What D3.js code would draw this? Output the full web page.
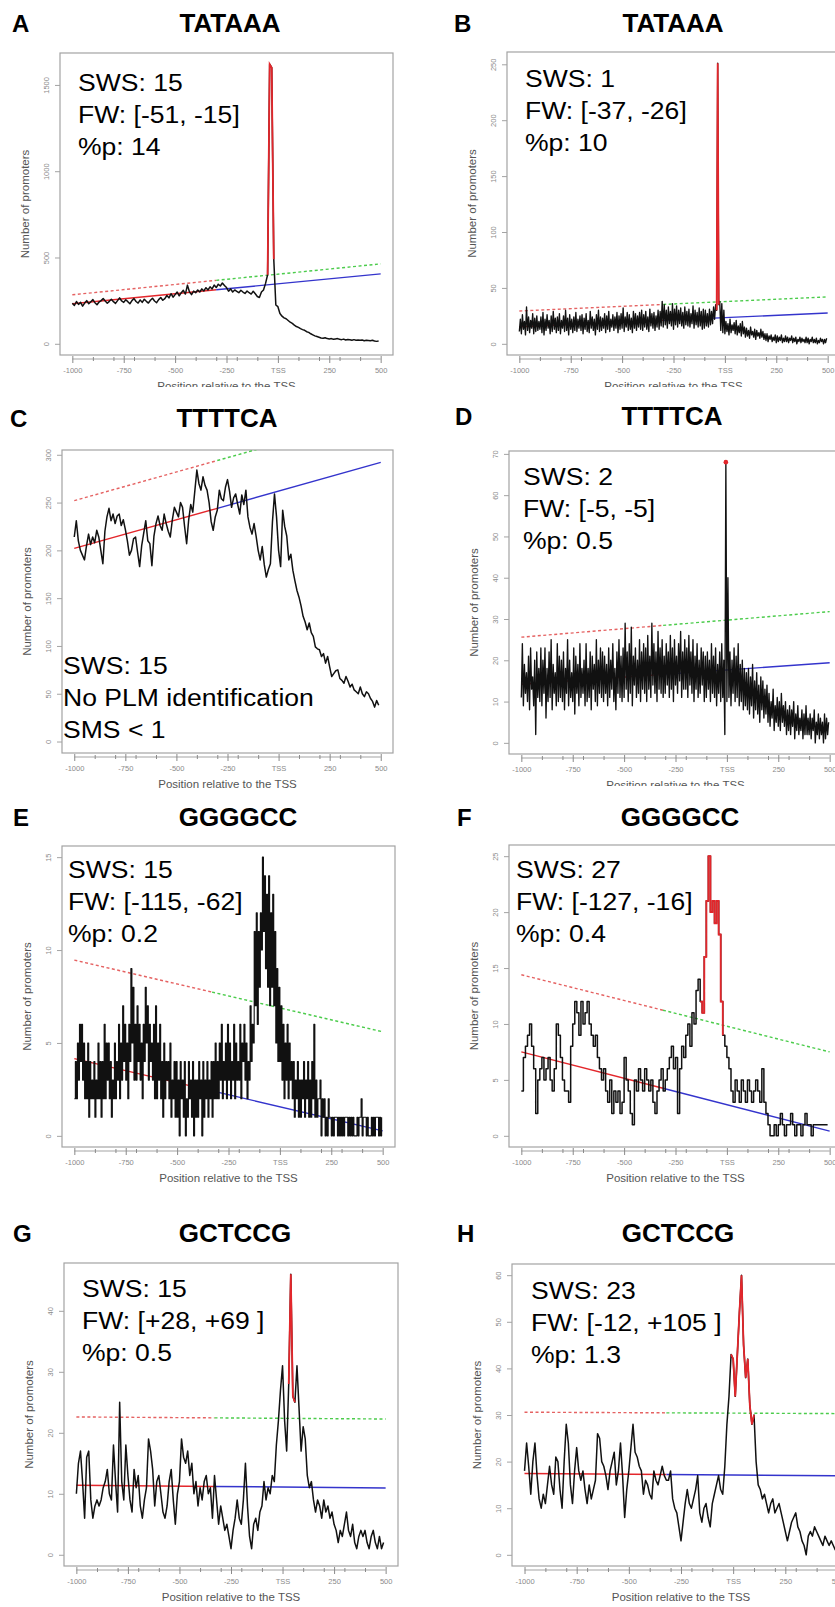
<!DOCTYPE html>
<html>
<head>
<meta charset="utf-8">
<script src="https://cdn.jsdelivr.net/npm/d3@7"></script>
<style>
  body { margin: 0; background: #fff; }
  svg { display: block; font-family: Arial, "Liberation Sans", sans-serif; }
</style>
</head>
<body>
<div class="canvas"></div>
<script>
// ---- panel texts
const letters = ['A', 'B', 'C', 'D', 'E', 'F', 'G', 'H'];
const motifs = ['TATAAA', 'TATAAA', 'TTTTCA', 'TTTTCA', 'GGGGCC', 'GGGGCC', 'GCTCCG', 'GCTCCG'];
const notes = [
    ['SWS: 15', 'FW: [-51, -15]', '%p: 14'],
    ['SWS: 1', 'FW: [-37, -26]', '%p: 10'],
    ['SWS: 15', 'No PLM identification', 'SMS < 1'],
    ['SWS: 2', 'FW: [-5, -5]', '%p: 0.5'],
    ['SWS: 15', 'FW: [-115, -62]', '%p: 0.2'],
    ['SWS: 27', 'FW: [-127, -16]', '%p: 0.4'],
    ['SWS: 15', 'FW: [+28, +69 ]', '%p: 0.5'],
    ['SWS: 23', 'FW: [-12, +105 ]', '%p: 1.3']
];

// ---- axes
const xMajor = [-1000, -750, -500, -250, 0, 250, 500];
const xMajorLabels = ['-1000', '-750', '-500', '-250', 'TSS', '250', '500'];
const xMinor = [-900, -800, -700, -600, -400, -300, -200, -100, 100, 200, 300, 400];
const xLimits = [-1060, 560];
const yLimits = [[-65, 1685], [-10, 261], [-12, 305], [-2.7, 70.7], [-0.6, 15.6], [-1, 26], [-1.84, 47.84], [-2.4, 62.4]];
const yTicks = [
    [0, 500, 1000, 1500],
    [0, 50, 100, 150, 200, 250],
    [0, 50, 100, 150, 200, 250, 300],
    [0, 10, 20, 30, 40, 50, 60, 70],
    [0, 5, 10, 15],
    [0, 5, 10, 15, 20, 25],
    [0, 10, 20, 30, 40],
    [0, 10, 20, 30, 40, 50, 60]
];

// ---- regression lines: value at -1000 and at +500, and where red turns blue/green
const fitLow = [[232, 405], [15.3, 27.5], [202, 292], [14.2, 19.4], [4.16, 0.27], [7.5, 0.42], [11.4, 10.96], [17.45, 16.95]];
const fitHigh = [[284, 463], [29.3, 42], [252, 342], [25.6, 31.8], [9.46, 5.6], [14.4, 7.5], [22.6, 22.26], [30.6, 30.3]];
const fitSplit = [-300, -300, -300, -310, -330, -311, -330, -320];

// ---- red (PLM) windows
const peakWindows = [[-51, -15], [-37, -26], null, [-5, -5], null, [-127, -16], [28, 69], [-12, 105]];

// ---- promoter counts, one value (or min/max pair) per 10 bp from -1000
const xFirst = -1000;
const xStep = 10;

const seriesA = [
    235, 222, 245, 228, 240, 218, 236, 250, 232, 244,
    256, 238, 226, 242, 250, 262, 248, 235, 246, 258,
    244, 234, 250, 266, 248, 240, 255, 244, 232, 250,
    262, 245, 236, 254, 240, 258, 246, 236, 252, 264,
    248, 238, 256, 268, 252, 262, 280, 266, 290, 270,
    285, 300, 278, 296, 310, 288, 340, 300, 285, 305,
    296, 312, 300, 318, 306, 325, 312, 330, 318, 340,
    326, 345, 335, 352, 338, 326, 305, 318, 300, 312,
    304, 296, 310, 300, 292, 306, 296, 288, 304, 290,
    274, 268, 300, 312, 350, 400, 1620, 1600, 490, 225,
    215, 175, 160, 150, 145, 135, 125, 118, 108, 100,
    95, 88, 82, 78, 70, 66, 58, 52, 46, 42,
    38, 34, 32, 35, 30, 28, 30, 26, 28, 30,
    26, 24, 27, 22, 25, 23, 20, 24, 21, 22,
    20, 22, 18, 21, 19, 17, 20, 16, 14, 16
];

const seriesBLo = [
    11, 9, 13, 8, 12, 10, 14, 9, 11, 12,
    13, 10, 8, 12, 14, 9, 11, 13, 10, 12,
    9, 14, 11, 12, 8, 13, 10, 12, 11, 14,
    12, 9, 13, 11, 10, 14, 12, 8, 13, 11,
    12, 14, 10, 13, 11, 15, 12, 14, 10, 13,
    14, 11, 15, 12, 13, 10, 14, 12, 15, 13,
    12, 15, 13, 11, 16, 14, 12, 15, 13, 16,
    15, 17, 14, 18, 16, 13, 17, 15, 18, 16,
    14, 17, 16, 15, 18, 14, 17, 15, 16, 13,
    14, 16, 15, 17, 18, 22, 30, 35, 12, 10,
    9, 11, 8, 10, 12, 9, 8, 10, 7, 9,
    6, 7, 5, 8, 6, 4, 7, 5, 6, 4,
    3, 2, 4, 2, 3, 1, 2, 3, 1, 2,
    2, 1, 3, 1, 2, 0, 2, 1, 2, 1,
    1, 0, 2, 1, 1, 0, 1, 2, 0, 1
];
const seriesBHi = [
    22, 26, 20, 33, 24, 21, 27, 23, 25, 20,
    24, 28, 22, 26, 21, 25, 29, 23, 24, 27,
    21, 25, 30, 23, 26, 22, 24, 28, 22, 25,
    26, 23, 27, 21, 29, 24, 22, 26, 30, 24,
    23, 27, 25, 29, 22, 26, 24, 28, 25, 27,
    32, 24, 28, 26, 23, 29, 27, 25, 28, 30,
    26, 29, 24, 31, 27, 28, 25, 30, 29, 38,
    35, 30, 33, 29, 36, 31, 34, 30, 32, 28,
    33, 29, 31, 27, 34, 30, 28, 32, 29, 31,
    30, 27, 31, 29, 33, 35, 251, 38, 36, 30,
    20, 18, 22, 17, 19, 21, 16, 18, 20, 15,
    14, 12, 15, 11, 13, 12, 10, 13, 11, 9,
    9, 7, 8, 6, 8, 7, 6, 8, 5, 7,
    6, 5, 7, 5, 6, 4, 6, 5, 4, 6,
    5, 4, 6, 4, 5, 3, 5, 4, 4, 5
];

const seriesC = [
    214, 231, 210, 200, 195, 190, 205, 217, 206, 214,
    208, 221, 214, 200, 186, 220, 235, 244, 231, 238,
    228, 236, 238, 226, 232, 222, 210, 195, 200, 212,
    214, 198, 183, 205, 218, 231, 210, 207, 184, 215,
    228, 236, 226, 221, 238, 228, 220, 214, 232, 245,
    240, 235, 250, 245, 225, 207, 232, 248, 240, 262,
    284, 270, 263, 277, 268, 263, 250, 230, 221, 235,
    242, 263, 254, 252, 266, 274, 262, 245, 255, 259,
    248, 238, 258, 248, 263, 235, 224, 217, 228, 215,
    200, 190, 204, 185, 172, 180, 186, 230, 259, 235,
    200, 183, 242, 225, 215, 190, 196, 179, 168, 158,
    151, 142, 131, 125, 117, 124, 114, 110, 99, 97,
    96, 89, 92, 82, 89, 78, 68, 71, 74, 75,
    66, 64, 61, 68, 63, 57, 60, 54, 52, 50,
    57, 50, 47, 52, 50, 45, 42, 36, 43, 38
];

const seriesDLo = [
    11, 9, 12, 10, 8, 13, 9, 2, 11, 10,
    9, 12, 6, 10, 11, 8, 12, 9, 10, 11,
    10, 8, 12, 9, 11, 10, 7, 12, 9, 11,
    12, 9, 10, 11, 8, 13, 10, 9, 12, 11,
    10, 12, 9, 11, 13, 10, 8, 12, 11, 10,
    11, 13, 10, 12, 9, 14, 11, 12, 10, 13,
    12, 10, 13, 11, 14, 12, 10, 13, 12, 11,
    12, 14, 11, 13, 10, 14, 12, 15, 11, 13,
    13, 11, 14, 12, 10, 13, 11, 12, 14, 10,
    11, 13, 10, 12, 11, 9, 12, 10, 11, 2,
    10, 11, 9, 12, 10, 11, 9, 10, 8, 9,
    8, 7, 9, 6, 8, 7, 5, 8, 6, 7,
    5, 4, 6, 3, 5, 4, 3, 5, 4, 2,
    3, 2, 4, 1, 3, 2, 3, 1, 2, 2,
    2, 1, 3, 0, 2, 1, 2, 0, 1, 2
];
const seriesDHi = [
    24, 19, 17, 21, 23, 16, 20, 22, 18, 23,
    20, 23, 18, 22, 25, 19, 17, 24, 21, 20,
    22, 18, 25, 20, 17, 23, 21, 19, 24, 18,
    20, 24, 18, 22, 21, 19, 25, 20, 23, 22,
    21, 19, 23, 20, 24, 18, 22, 25, 21, 23,
    29, 22, 24, 28, 21, 23, 20, 25, 22, 24,
    23, 26, 21, 29, 24, 22, 27, 23, 25, 21,
    24, 22, 26, 23, 25, 21, 24, 27, 22, 25,
    23, 26, 22, 25, 21, 24, 20, 23, 22, 21,
    22, 20, 24, 21, 23, 19, 22, 24, 20, 68,
    40, 22, 20, 23, 21, 24, 19, 20, 18, 17,
    18, 16, 19, 15, 17, 14, 16, 15, 13, 14,
    12, 10, 13, 9, 11, 10, 12, 9, 10, 8,
    9, 8, 10, 7, 9, 6, 8, 7, 9, 6,
    7, 6, 8, 5, 7, 6, 5, 7, 6, 5
];

const seriesELo = [
    2, 2, 3, 4, 3, 2, 2, 1, 2, 2,
    1, 2, 2, 1, 2, 2, 3, 2, 1, 2,
    2, 3, 2, 3, 4, 3, 2, 4, 5, 3,
    3, 4, 3, 2, 4, 5, 3, 4, 3, 2,
    2, 3, 2, 1, 2, 3, 2, 1, 2, 1,
    1, 0, 2, 1, 0, 1, 2, 1, 0, 1,
    1, 2, 0, 1, 2, 1, 2, 1, 2, 2,
    2, 3, 2, 3, 2, 3, 2, 3, 2, 3,
    3, 2, 4, 3, 2, 3, 4, 5, 7, 6,
    8, 10, 11, 9, 8, 7, 8, 7, 5, 4,
    4, 3, 2, 3, 2, 3, 2, 1, 2, 1,
    1, 2, 1, 2, 1, 1, 2, 1, 1, 2,
    0, 1, 0, 0, 1, 0, 0, 1, 0, 0,
    0, 0, 1, 0, 0, 0, 0, 0, 0, 1,
    0, 1, 0, 0, 0, 0, 0, 1, 0, 0
];
const seriesEHi = [
    4, 5, 6, 6, 5, 4, 5, 4, 3, 4,
    3, 5, 4, 4, 6, 5, 5, 4, 3, 5,
    4, 6, 5, 7, 6, 5, 6, 9, 8, 6,
    7, 6, 5, 6, 8, 7, 6, 5, 6, 7,
    5, 6, 4, 5, 4, 4, 5, 3, 4, 4,
    3, 4, 3, 4, 2, 4, 3, 4, 3, 3,
    4, 3, 4, 3, 4, 3, 4, 4, 5, 4,
    5, 6, 4, 5, 6, 5, 4, 6, 5, 4,
    6, 5, 6, 5, 4, 7, 6, 11, 12, 11,
    12, 15, 14, 13, 14, 12, 13, 11, 9, 8,
    7, 6, 5, 6, 5, 4, 4, 3, 4, 3,
    3, 4, 3, 4, 3, 4, 6, 3, 2, 3,
    2, 2, 1, 2, 1, 1, 1, 1, 1, 1,
    1, 1, 1, 1, 1, 1, 0, 1, 1, 2,
    1, 1, 1, 0, 1, 1, 1, 1, 1, 1
];

const seriesF = [
    4, 7, 8, 9, 10, 8, 6, 2, 5, 6,
    7, 5, 6, 7, 5, 4, 6, 10, 9, 7,
    5, 4, 4, 3, 8, 10, 12, 11, 9, 12,
    10, 11, 12, 10, 9, 8, 9, 7, 6, 5,
    6, 4, 3, 5, 2, 4, 3, 4, 2, 3,
    7, 5, 4, 2, 1, 5, 4, 6, 5, 4,
    6, 5, 4, 5, 3, 2, 4, 5, 6, 4,
    5, 6, 7, 8, 6, 7, 2, 6, 8, 7,
    9, 10, 8, 11, 10, 13, 14, 12, 11, 16,
    21, 25, 20, 21, 19, 21, 18, 12, 9, 8,
    7, 6, 4, 3, 5, 4, 3, 5, 4, 3,
    5, 4, 3, 4, 5, 4, 3, 6, 3, 2,
    1, 0, 0, 1, 0, 1, 2, 1, 0, 1,
    1, 2, 1, 0, 1, 1, 0, 1, 2, 1,
    1, 0, 1, 1, 1, 1, 1, 1, 1, 1
];

const seriesG = [
    10, 15, 17, 12, 6, 16, 17, 9, 6, 8,
    9, 8, 9, 11, 12, 14, 10, 9, 18, 12,
    7, 25, 12, 9, 18, 13, 9, 7, 14, 11,
    13, 8, 6, 9, 11, 19, 17, 14, 8, 12,
    13, 10, 7, 6, 8, 12, 14, 9, 5, 10,
    12, 19, 16, 15, 17, 13, 15, 10, 12, 8,
    11, 9, 12, 13, 10, 11, 6, 13, 9, 5,
    8, 6, 4, 5, 3, 1, 4, 6, 9, 6,
    5, 9, 15, 8, 3, 1, 5, 6, 4, 7,
    8, 12, 9, 11, 10, 13, 12, 18, 22, 27,
    31, 22, 17, 28, 46, 26, 25, 31, 24, 17,
    21, 19, 13, 11, 12, 9, 7, 9, 8, 6,
    9, 7, 8, 6, 7, 5, 4, 2, 4, 3,
    5, 7, 4, 3, 5, 2, 1, 3, 4, 3,
    4, 2, 1, 3, 4, 2, 1, 3, 1, 2
];

const seriesH = [
    18, 24, 19, 13, 20, 24, 17, 12, 10, 13,
    11, 15, 19, 15, 13, 21, 20, 14, 10, 20,
    28, 24, 15, 11, 18, 23, 18, 16, 18, 14,
    11, 15, 12, 14, 16, 26, 25, 20, 19, 17,
    14, 18, 20, 22, 15, 18, 24, 17, 8, 14,
    18, 23, 28, 22, 21, 19, 18, 13, 16, 15,
    13, 12, 18, 16, 15, 17, 19, 17, 16, 16,
    18, 12, 10, 9, 6, 3, 7, 11, 14, 11,
    10, 12, 14, 17, 9, 7, 10, 11, 8, 6,
    11, 13, 15, 17, 14, 13, 19, 28, 34, 43,
    42, 34, 43, 52, 60, 45, 38, 42, 32, 28,
    30, 20, 15, 14, 12, 13, 11, 9, 11, 12,
    9, 10, 11, 9, 7, 5, 3, 5, 7, 8,
    9, 6, 5, 3, 2, 0, 4, 5, 4, 6,
    5, 4, 3, 2, 4, 3, 2, 3, 2, 1
];

// which curve each panel draws
const panelSeries = [
    { values: seriesA },
    { lo: seriesBLo, hi: seriesBHi },
    { values: seriesC },
    { lo: seriesDLo, hi: seriesDHi },
    { lo: seriesELo, hi: seriesEHi, step: true },
    { values: seriesF, step: true },
    { values: seriesG },
    { values: seriesH }
];

// ---- page layout (pixels)
const layout = [
    { l: 60, t: 53, w: 333, b: 355, lx: 12, ly: 32, tx: 230, nx: 78, ny: 91, cut: 387 },
    { l: 507, t: 52, w: 333, b: 355, lx: 454, ly: 32, tx: 673, nx: 525, ny: 87, cut: 387 },
    { l: 62, t: 450, w: 331, b: 753, lx: 10, ly: 427, tx: 227, nx: 63, ny: 674 },
    { l: 509, t: 451, w: 333, b: 754, lx: 455, ly: 425, tx: 672, nx: 523, ny: 485, cut: 786 },
    { l: 62, t: 846, w: 333, b: 1147, lx: 13, ly: 826, tx: 238, nx: 68, ny: 878 },
    { l: 509, t: 845, w: 333, b: 1147, lx: 457, ly: 826, tx: 680, nx: 516, ny: 878 },
    { l: 64, t: 1263, w: 334, b: 1566, lx: 13, ly: 1242, tx: 235, nx: 82, ny: 1297 },
    { l: 512, t: 1264, w: 338, b: 1566, lx: 457, ly: 1242, tx: 678, nx: 531, ny: 1299 }
];

const RED = '#e3262b';
const BLUE = '#3434cc';
const GREEN = '#4ccc4c';
const DASHRED = '#e56262';
const GREY = '#a3a3a3';

const svg = d3.select('.canvas')
    .append('svg')
    .attr('width', 835)
    .attr('height', 1607);

svg.append('rect').attr('width', 835).attr('height', 1607).attr('fill', '#fff');
const defs = svg.append('defs');

layout.forEach((L, i) => {
    const x = d3.scaleLinear().domain(xLimits).range([L.l, L.l + L.w]);
    const y = d3.scaleLinear().domain(yLimits[i]).range([L.b, L.t]);

    // clip of the plotting region
    defs.append('clipPath').attr('id', 'plot' + i)
        .append('rect').attr('x', L.l).attr('y', L.t).attr('width', L.w).attr('height', L.b - L.t);

    const panel = svg.append('g');
    if (L.cut) {
        // the panel below covers the bottom of this one
        defs.append('clipPath').attr('id', 'cut' + i)
            .append('rect').attr('x', 0).attr('y', L.t - 60).attr('width', 835).attr('height', L.cut - L.t + 60);
        panel.attr('clip-path', `url(#cut${i})`);
    }

    // letter and motif title
    panel.append('text')
        .attr('x', L.lx).attr('y', L.ly)
        .attr('font-size', 24).attr('font-weight', 'bold')
        .text(letters[i]);
    panel.append('text')
        .attr('x', L.tx).attr('y', L.ly)
        .attr('text-anchor', 'middle')
        .attr('font-size', 26).attr('font-weight', 'bold')
        .text(motifs[i]);

    // frame
    panel.append('rect')
        .attr('x', L.l).attr('y', L.t)
        .attr('width', L.w).attr('height', L.b - L.t)
        .attr('fill', 'none').attr('stroke', GREY).attr('stroke-width', 1.2);

    // y axis, labels turned like R does
    const ya = panel.append('g')
        .attr('transform', `translate(${L.l},0)`)
        .call(d3.axisLeft(y).tickValues(yTicks[i]).tickSize(5).tickFormat(d3.format('d')));
    ya.select('.domain').remove();
    ya.attr('font-family', null).attr('font-size', 7.5);
    ya.selectAll('line').attr('stroke', GREY);
    ya.selectAll('text')
        .attr('transform', 'rotate(-90)')
        .attr('x', 0).attr('y', -11).attr('dy', 0)
        .attr('text-anchor', 'middle')
        .attr('fill', '#8a8a8a');

    // x axis: line, major labelled ticks, minor ticks
    const axisY = L.b + 4;
    panel.append('line')
        .attr('x1', x(-1000)).attr('x2', x(500))
        .attr('y1', axisY).attr('y2', axisY)
        .attr('stroke', GREY);
    const xa = panel.append('g')
        .attr('transform', `translate(0,${axisY})`)
        .call(d3.axisBottom(x).tickValues(xMajor).tickSize(4).tickPadding(5)
            .tickFormat((d, k) => xMajorLabels[k]));
    xa.select('.domain').remove();
    xa.attr('font-family', null).attr('font-size', 7.5);
    xa.selectAll('line').attr('y1', -3).attr('stroke', '#8a8a8a');
    xa.selectAll('text').attr('fill', '#8a8a8a');
    const xm = panel.append('g')
        .attr('transform', `translate(0,${axisY})`)
        .call(d3.axisBottom(x).tickValues(xMinor).tickSize(2).tickFormat(''));
    xm.select('.domain').remove();
    xm.selectAll('line').attr('y1', -2).attr('stroke', '#8a8a8a');

    // axis titles
    panel.append('text')
        .attr('transform', `translate(${L.l - 31},${(L.t + L.b) / 2}) rotate(-90)`)
        .attr('text-anchor', 'middle')
        .attr('font-size', 11.5).attr('fill', '#555')
        .text('Number of promoters');
    panel.append('text')
        .attr('x', L.l + L.w / 2).attr('y', L.b + 35)
        .attr('text-anchor', 'middle')
        .attr('font-size', 11.5).attr('fill', '#555')
        .text('Position relative to the TSS');

    const plot = panel.append('g').attr('clip-path', `url(#plot${i})`);

    // regression lines: solid (red then blue) and dotted upper bound (red then green)
    const fitAt = (f, v) => f[0] + (f[1] - f[0]) * (v + 1000) / 1500;
    const seg = (f, a, c) => [[a, fitAt(f, a)], [c, fitAt(f, c)]];
    const lineGen = d3.line().x(d => x(d[0])).y(d => y(d[1]));
    const s = fitSplit[i];
    [[fitHigh[i], -1000, s, DASHRED, '3,2.5'], [fitHigh[i], s, 500, GREEN, '3,2.5'],
     [fitLow[i], -1000, s, RED, null], [fitLow[i], s, 500, BLUE, null]].forEach(([f, a, c, col, dash]) => {
        plot.append('path')
            .attr('d', lineGen(seg(f, a, c)))
            .attr('fill', 'none')
            .attr('stroke', col)
            .attr('stroke-width', 1.4)
            .attr('stroke-dasharray', dash);
    });

    // the profile
    const ser = panelSeries[i];
    const xs = k => xFirst + k * xStep;
    const pts = ser.lo
        ? ser.lo.flatMap((v, k) => [[xs(k), v], [xs(k) + xStep / 2, ser.hi[k]]])
        : ser.values.map((v, k) => [xs(k), v]);
    const curveLine = d3.line()
        .x(d => x(d[0])).y(d => y(d[1]))
        .curve(ser.step ? d3.curveStepAfter : d3.curveLinear);
    plot.append('path')
        .attr('d', curveLine(pts))
        .attr('fill', 'none')
        .attr('stroke', '#111')
        .attr('stroke-width', ser.lo ? (ser.step ? 1.1 : 1.35) : 1.5)
        .attr('stroke-linejoin', 'round');

    // red part inside the functional window
    const win = peakWindows[i];
    if (win) {
        const inWin = pts.filter(p => p[0] >= win[0] - 5 && p[0] <= win[1]);
        if (win[0] === win[1]) {
            const top = inWin.reduce((m, p) => (p[1] > m[1] ? p : m));
            plot.append('circle')
                .attr('cx', x(top[0])).attr('cy', y(top[1]))
                .attr('r', 2.3).attr('fill', RED);
        } else {
            plot.append('path')
                .attr('d', curveLine(inWin))
                .attr('fill', 'none')
                .attr('stroke', RED)
                .attr('stroke-width', 1.8);
        }
    }

    // annotation block
    notes[i].forEach((t, k) => {
        panel.append('text')
            .attr('transform', `translate(${L.nx},${L.ny + k * 32}) scale(1.13,1)`)
            .attr('font-size', 23.5)
            .text(t);
    });
});
</script>
</body>
</html>
